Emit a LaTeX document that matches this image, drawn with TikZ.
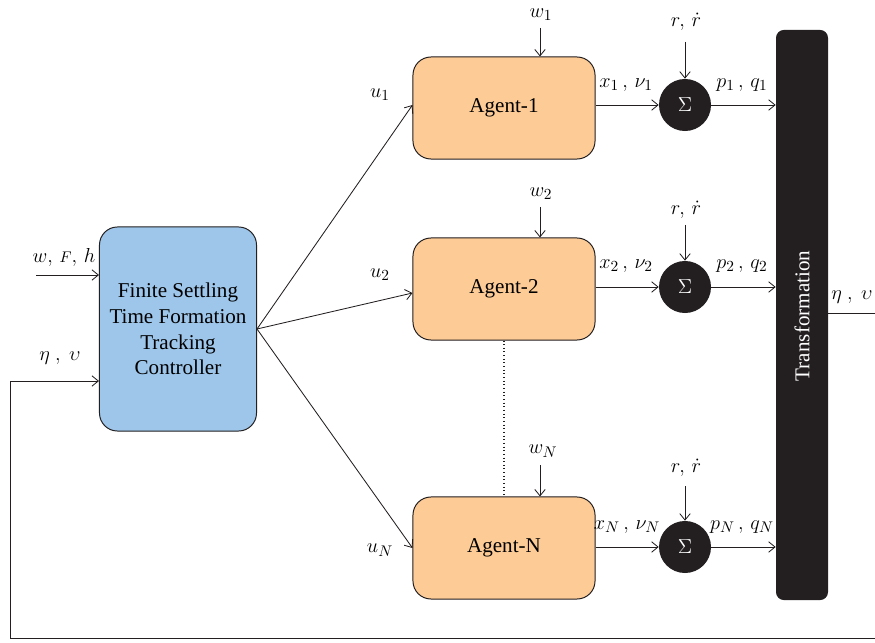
\documentclass[tikz,border=0pt]{standalone}
\usepackage{fontspec}
\setmainfont{Liberation Serif}
\usetikzlibrary{arrows.meta, positioning, calc}
\definecolor{ctrlblue}{HTML}{9DC6EA}
\definecolor{agentorange}{HTML}{FDCB95}
\definecolor{inkdark}{HTML}{231F20}

\begin{document}
\begin{tikzpicture}[
    x=0.025cm, y=-0.025cm,
    font=\fontsize{15}{18.2}\selectfont,
    block/.style={draw=inkdark, line width=0.7pt, rounded corners=4.5mm, fill=#1, align=center},
    agent/.style={block=agentorange, minimum width=4.55cm, minimum height=2.55cm},
    summer/.style={circle, fill=inkdark, text=white, minimum size=1.3cm, inner sep=0pt},
    arrow/.style={-{Straight Barb[length=1.6mm, width=2.6mm]}, line width=0.6pt, color=inkdark},
    plain/.style={line width=0.6pt, color=inkdark}
]
\useasboundingbox (0,0) rectangle (875,643);

% controller and agents
\node[block=ctrlblue, minimum width=3.925cm, minimum height=5.1cm] (ctrl) at (178,329) {Finite Settling\\Time Formation\\Tracking\\Controller};
\node[agent] (agentA) at (504,108) {Agent-1};
\node[agent] (agentB) at (504,289) {Agent-2};
\node[agent] (agentN) at (504,548) {Agent-N};

% summing junctions
\node[summer] (sumA) at (685,105) {$\Sigma$};
\node[summer] (sumB) at (685,287) {$\Sigma$};
\node[summer] (sumN) at (685,547) {$\Sigma$};

% transformation bar
\node[fill=inkdark, rounded corners=2mm, minimum width=1.3cm, minimum height=14.25cm, inner sep=0pt] (trans) at (802,315) {};
\node[rotate=90, text=white] (transtxt) at (802,316) {Transformation};

% inputs to controller
\coordinate (inW) at (36,275);
\draw[arrow] (inW) -- (inW -| ctrl.west);
\node (lblW) at (64,257) {$w,\,{\scriptstyle F},\,h$};
\coordinate (fbR) at (875,638);
\coordinate (fbL) at (10,638);
\coordinate (fbU) at (10,381);
\draw[arrow] (fbR) -- (fbL) -- (fbU) -- (fbU -| ctrl.west);
\node (lblFb) at (60,358) {$\eta\ ,\ \upsilon$};

% controller to agents
\draw[arrow] (ctrl.east) -- ($(agentA.west)+(0,-3)$);
\draw[arrow] (ctrl.east) -- ($(agentB.west)+(0,4)$);
\draw[arrow] (ctrl.east) -- (agentN.west);
\node (lblUA) at (380,95) {$u_1$};
\node (lblUB) at (380,275) {$u_2$};
\node (lblUN) at (380,550) {$u_N$};

% disturbances
\coordinate (wA) at (540,28);
\coordinate (wB) at (540,207);
\coordinate (wN) at (540,465);
\draw[arrow] (wA) -- (wA |- agentA.north);
\draw[arrow] (wB) -- (wB |- agentB.north);
\draw[arrow] (wN) -- (wN |- agentN.north);
\node (lblWA) at (541,15) {$w_1$};
\node (lblWB) at (541,194) {$w_2$};
\node (lblWN) at (543,451) {$w_N$};

% references
\coordinate (rA) at (685,42);
\coordinate (rB) at (685,225);
\coordinate (rN) at (685,486);
\draw[arrow] (rA) -- (sumA.north);
\draw[arrow] (rB) -- (sumB.north);
\draw[arrow] (rN) -- (sumN.north);
\node (lblRA) at (686,22) {$r,\,\dot{r}$};
\node (lblRB) at (686,210) {$r,\,\dot{r}$};
\node (lblRN) at (686,468) {$r,\,\dot{r}$};

% agent outputs
\draw[arrow] (agentA.east |- sumA) -- (sumA.west);
\draw[arrow] (agentB.east |- sumB) -- (sumB.west);
\draw[arrow] (agentN.east |- sumN) -- (sumN.west);
\node (lblXA) at (626,85) {$x_1\,,\,\nu_1$};
\node (lblXB) at (626,266) {$x_2\,,\,\nu_2$};
\node (lblXN) at (627,527) {$x_N\,,\,\nu_N$};

% summer to transformation
\draw[arrow] (sumA.east) -- (sumA -| trans.west);
\draw[arrow] (sumB.east) -- (sumB -| trans.west);
\draw[arrow] (sumN.east) -- (sumN -| trans.west);
\node (lblPA) at (742,85) {$p_1\,,\,q_1$};
\node (lblPB) at (742,266) {$p_2\,,\,q_2$};
\node (lblPN) at (742,527) {$p_N\,,\,q_N$};

% output
\coordinate (outR) at (875,313);
\draw[plain] (outR -| trans.east) -- (outR);
\node (lblOut) at (852,297) {$\eta\ ,\ \upsilon$};

% dotted link
\draw[plain, dotted, line width=0.9pt] (agentB.south) -- (agentN.north);
\end{tikzpicture}
\end{document}
